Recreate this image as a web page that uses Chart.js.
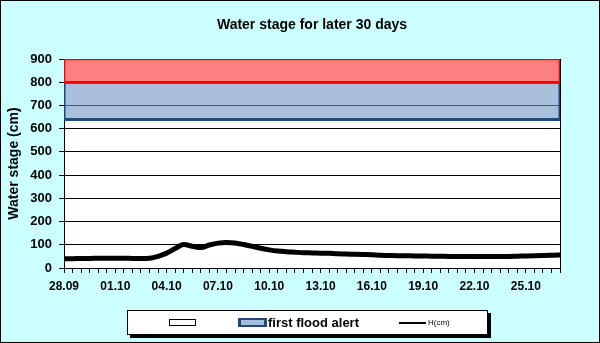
<!DOCTYPE html>
<html>
<head>
<meta charset="utf-8">
<script src="https://cdn.jsdelivr.net/npm/chart.js@4/dist/chart.umd.min.js"></script>
<style>
  html, body { margin: 0; padding: 0; background: #ccffff; }
  canvas { display: block; }
</style>
</head>
<body>
<canvas id="stageChart" width="600" height="343"></canvas>
<script>
// x tick labels, one every 3 days
const dateLabels = ['28.09', '01.10', '04.10', '07.10', '10.10', '13.10', '16.10', '19.10', '22.10', '25.10'];

// days after 28.09 00:00, 12 hour steps
const stageTimes = [0, 0.5, 1, 1.5, 2, 2.5, 3, 3.5, 4, 4.5,
  5, 5.5, 6, 6.5, 7, 7.5, 8, 8.5, 9, 9.5,
  10, 10.5, 11, 11.5, 12, 12.5, 13, 13.5, 14, 14.5,
  15, 15.5, 16, 16.5, 17, 17.5, 18, 18.5, 19, 19.5,
  20, 20.5, 21, 21.5, 22, 22.5, 23, 23.5, 24, 24.5,
  25, 25.5, 26, 26.5, 27, 27.5, 28, 28.5, 29];

// H (cm)
const stageValues = [40, 40, 41, 41, 42, 42, 42, 42, 41, 41,
  42, 50, 64, 84, 101, 94, 88, 99, 107, 110,
  108, 101, 93, 85, 78, 73, 70, 68, 66, 65,
  64, 63, 61, 60, 59, 58, 57, 55, 54, 53,
  53, 52, 52, 51, 51, 50, 50, 50, 50, 50,
  50, 50, 50, 51, 52, 53, 54, 55, 56];

// alert bands (cm)
const firstAlert = [640, 800];
const secondAlert = [800, 900];
const xRange = [0, 29];

function band(range) {
  return [
    { x: xRange[0], y: range[0] },
    { x: xRange[1], y: range[0] },
    { x: xRange[1], y: range[1] },
    { x: xRange[0], y: range[1] },
    { x: xRange[0], y: range[0] }
  ];
}

const backdrop = {
  id: 'backdrop',
  beforeDraw(chart) {
    const { ctx, chartArea: a } = chart;
    ctx.save();
    ctx.fillStyle = '#ccffff';
    ctx.fillRect(0, 0, chart.width, chart.height);
    ctx.strokeStyle = '#000';
    ctx.lineWidth = 1;
    ctx.strokeRect(0.5, 0.5, chart.width - 1, chart.height - 1);
    ctx.fillStyle = '#ffffff';
    ctx.fillRect(a.left, a.top, a.right - a.left, a.bottom - a.top);
    ctx.restore();
  },
  beforeDatasetsDraw(chart) {
    const { ctx, chartArea: a } = chart;
    ctx.save();
    ctx.strokeStyle = '#000';
    ctx.lineWidth = 1;
    ctx.beginPath();
    ctx.moveTo(Math.round(a.right) + 0.5, a.top);
    ctx.lineTo(Math.round(a.right) + 0.5, a.bottom);
    ctx.stroke();
    ctx.restore();
  }
};

const boxLegend = {
  id: 'boxLegend',
  afterDraw(chart) {
    const ctx = chart.ctx;
    ctx.save();
    // frame with shadow
    ctx.fillStyle = '#000';
    ctx.fillRect(130, 313, 361, 25);
    ctx.fillStyle = '#fff';
    ctx.fillRect(127, 310, 361, 25);
    ctx.strokeStyle = '#000';
    ctx.lineWidth = 1;
    ctx.strokeRect(127.5, 310.5, 360, 24);
    // empty entry
    ctx.strokeRect(169.5, 319.5, 26, 6);
    // first flood alert
    ctx.fillStyle = '#1f497d';
    ctx.fillRect(238, 318, 29, 9);
    ctx.fillStyle = '#a6bfdd';
    ctx.fillRect(241, 320, 23, 5);
    ctx.fillStyle = '#000';
    ctx.font = 'bold 13px "Liberation Sans", Arial, sans-serif';
    ctx.textBaseline = 'middle';
    ctx.fillText(chart.data.datasets[1].label, 268, 323);
    // H(cm)
    ctx.lineWidth = 2;
    ctx.beginPath();
    ctx.moveTo(399, 323);
    ctx.lineTo(426, 323);
    ctx.stroke();
    ctx.font = '8px "Liberation Sans", Arial, sans-serif';
    ctx.fillText(chart.data.datasets[0].label, 428, 323);
    ctx.restore();
  }
};

new Chart(document.getElementById('stageChart'), {
  type: 'line',
  data: {
    datasets: [
      {
        label: 'H(cm)',
        data: stageTimes.map((t, i) => ({ x: t, y: stageValues[i] })),
        borderColor: '#000',
        borderWidth: 5,
        pointRadius: 0,
        tension: 0.4,
        cubicInterpolationMode: 'monotone',
        fill: false,
        order: 1
      },
      {
        label: 'first flood alert',
        data: band(firstAlert),
        borderColor: '#1f497d',
        borderWidth: 3,
        backgroundColor: 'rgba(110, 150, 197, 0.6)',
        pointRadius: 0,
        tension: 0,
        fill: 'shape',
        order: 3
      },
      {
        label: '',
        data: band(secondAlert),
        borderColor: '#ff0000',
        borderWidth: 2.5,
        backgroundColor: '#ff8080',
        pointRadius: 0,
        tension: 0,
        fill: 'shape',
        order: 2
      }
    ]
  },
  options: {
    responsive: false,
    animation: false,
    layout: { padding: { left: 0, right: 40, top: 0, bottom: 0 } },
    plugins: {
      legend: { display: false },
      tooltip: { enabled: false },
      title: {
        display: true,
        fullSize: false,
        text: 'Water stage for later 30 days',
        color: '#000',
        font: { family: '"Liberation Sans", Arial, sans-serif', size: 14, weight: 'bold' },
        padding: { top: 17, bottom: 25.2 }
      }
    },
    scales: {
      x: {
        type: 'linear',
        min: xRange[0],
        max: xRange[1],
        afterFit(scale) { scale.height = 75; },
        border: { display: true, color: '#000', width: 1 },
        grid: { drawOnChartArea: false, drawTicks: true, tickLength: 5, color: '#000' },
        ticks: {
          stepSize: 0.5,
          autoSkip: false,
          maxRotation: 0,
          padding: 6,
          color: '#000',
          font: { family: '"Liberation Sans", Arial, sans-serif', size: 12, weight: 'bold' },
          callback(value) {
            const k = value / 3;
            return Math.abs(k - Math.round(k)) < 1e-6 ? dateLabels[Math.round(k)] : '';
          }
        }
      },
      y: {
        min: 0,
        max: 900,
        afterFit(scale) { scale.width = 64; },
        border: { display: true, color: '#000', width: 1 },
        grid: { color: '#000', lineWidth: 1, tickLength: 5 },
        ticks: {
          stepSize: 100,
          padding: 7,
          color: '#000',
          font: { family: '"Liberation Sans", Arial, sans-serif', size: 13, weight: 'bold' }
        },
        title: {
          display: true,
          text: 'Water stage (cm)',
          color: '#000',
          font: { family: '"Liberation Sans", Arial, sans-serif', size: 14, weight: 'bold' },
          padding: { top: 6, bottom: 0 }
        }
      }
    }
  },
  plugins: [backdrop, boxLegend]
});
</script>
</body>
</html>
